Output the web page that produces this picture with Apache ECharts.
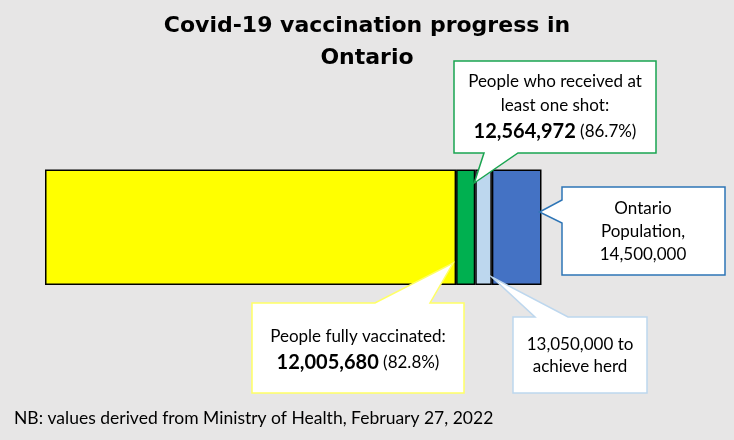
<!DOCTYPE html>
<html><head><meta charset="utf-8">
<script src="https://cdn.jsdelivr.net/npm/echarts@6/dist/echarts.min.js"></script>
<style>html,body{margin:0;padding:0;background:#e7e6e6}#c{width:734px;height:440px}</style>
</head><body><div id="c"></div>
<script>
const categories = ['Ontario'];
const fullyVaccinated = 12005680;
const atLeastOne = 12564972;
const herdTarget = 13050000;
const population = 14500000;
const segmentNames = ['Fully vaccinated', 'One shot only', 'To herd', 'Remaining population'];
const segmentValues = [fullyVaccinated, atLeastOne - fullyVaccinated, herdTarget - atLeastOne, population - herdTarget];
const segmentColors = ['#ffff00', '#00b050', '#bdd7ee', '#4472c4'];
const pctFull = '(82.8%)';
const pctOne = '(86.7%)';

const fmt = v => v.toLocaleString('en-US');
const chart = echarts.init(document.getElementById('c'), null, {renderer: 'canvas'});
const FONT = 'Lato';

chart.setOption({
  backgroundColor: '#e7e6e6',
  animation: false,
  title: {
    text: 'Covid-19 vaccination progress in\nOntario',
    left: 'center', top: 5,
    textStyle: {fontFamily: 'DejaVu Sans', fontWeight: 'bold', fontSize: 22, lineHeight: 32, color: '#000'}
  },
  grid: {left: 45, right: 192.5, top: 169.5, bottom: 155},
  xAxis: {type: 'value', min: 0, max: population, show: false},
  yAxis: {type: 'category', data: categories, show: false},
  series: segmentValues.map((v, i) => ({
    type: 'bar', name: segmentNames[i], stack: 'total', data: [v], barWidth: '100%',
    itemStyle: {color: segmentColors[i], borderColor: '#000', borderWidth: 1.5}
  }))
});

const px = v => chart.convertToPixel({xAxisIndex: 0}, v);
const tipGreen = [px(atLeastOne) - 1, 183];
const tipYellow = [px(fullyVaccinated) - 3, 263];
const tipLight = [px(herdTarget), 277];
const tipBlue = [px(population) - 2, 212];

function callout(points, stroke) {
  return {type: 'polygon', shape: {points: points}, style: {fill: '#fff', stroke: stroke, lineWidth: 1.5}, z: 10};
}
function txt(x, y, text, rich) {
  return {type: 'text', x: x, y: y, z: 11, style: {text: text, fontFamily: FONT, fontSize: 17, fill: '#000', align: 'center', verticalAlign: 'middle', rich: rich || {}}};
}
const rich = {
  b: {fontFamily: FONT, fontSize: 20, fontWeight: 'bold', fill: '#000'},
  n: {fontFamily: FONT, fontSize: 17, fill: '#000'}
};

chart.setOption({
  graphic: [
    callout([[454,61],[656,61],[656,153],[518,153],tipGreen,[484,153],[454,153]], '#1aa551'),
    txt(555, 82, 'People who received at'),
    txt(555, 106, 'least one shot:'),
    txt(555, 132, '{b|' + fmt(atLeastOne) + '} {n|' + pctOne + '}', rich),

    callout([[562,187],[725,187],[725,275],[562,275],[562,223],tipBlue,[562,200]], '#2e75b6'),
    txt(643, 209, 'Ontario'),
    txt(643, 232, 'Population,'),
    txt(643, 255, fmt(population)),

    callout([[252,303],[375,303],tipYellow,[430,303],[464,303],[464,393],[252,393]], '#ffff66'),
    txt(358, 337, 'People fully vaccinated:'),
    txt(358, 363, '{b|' + fmt(fullyVaccinated) + '} {n|' + pctFull + '}', rich),

    callout([[513,317],[535,317],tipLight,[568,317],[647,317],[647,393],[513,393]], '#bdd7ee'),
    txt(580, 345, fmt(herdTarget) + ' to'),
    txt(580, 367, 'achieve herd'),

    {type: 'text', x: 14, y: 418, z: 11, style: {text: 'NB: values derived from Ministry of Health, February 27, 2022', fontFamily: FONT, fontSize: 17.5, fill: '#000', align: 'left', verticalAlign: 'middle'}}
  ]
});
</script></body></html>
